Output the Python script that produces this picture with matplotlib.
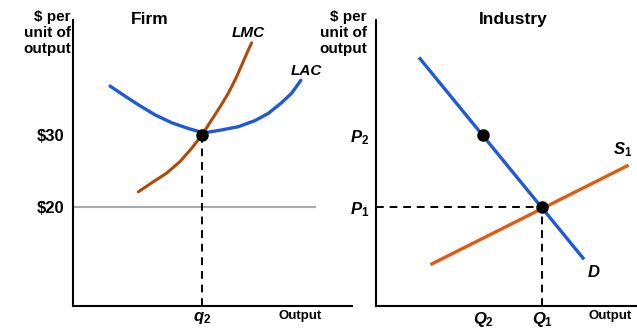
import numpy as np
import matplotlib
matplotlib.use('Agg')
import matplotlib.pyplot as plt

plt.rcParams['font.family'] = 'Liberation Sans'
plt.rcParams['font.weight'] = 'bold'
plt.rcParams['mathtext.fontset'] = 'custom'
plt.rcParams['mathtext.rm'] = 'Liberation Sans:bold'
plt.rcParams['mathtext.it'] = 'Liberation Sans:italic:bold'

# firm: long-run average cost and marginal cost ($ per unit vs output)
lac_q = [2.87, 3.78, 5.06, 6.36, 7.65, 8.94, 9.84, 10.5, 11.53, 12.81, 14.11,
         15.14, 16.18, 16.95, 17.67]
lac_p = [36.8, 35.7, 34.2, 32.8, 31.7, 30.9, 30.45, 30.4, 30.7, 31.15, 32.0,
         33.0, 34.5, 35.8, 37.6]
lmc_q = [5.06, 6.22, 7.26, 8.29, 9.2, 10.0, 10.75, 11.4, 12.04, 12.69, 13.2,
         13.59, 13.85]
lmc_p = [22.1, 23.5, 24.7, 26.3, 28.15, 30.0, 32.1, 33.9, 35.8, 38.1, 40.2,
         41.8, 42.8]
firm_price = 20
q2 = 10
p_lac_min = 30

# industry: demand and supply
d_q = [2.65, 12.47]
d_p = [40.6, 12.9]
s_q = [3.37, 15.12]
s_p = [12.1, 25.7]
Q1, P1 = 10, 20
Q2, P2 = 6.45, 30

blue = '#1f5ad6'
brown = '#b04a0a'
orange = '#e05a12'

fig = plt.figure(figsize=(6.37, 3.28), dpi=100)
W, H = 637, 328
axL = fig.add_axes([73 / W, 22 / H, (352 - 73) / W, 286 / H])
axR = fig.add_axes([376 / W, 22 / H, (637 - 376) / W, 286 / H])

ylim = (6.25, 45.97)
for ax in (axL, axR):
    ax.set_ylim(*ylim)
    for s in ('top', 'right'):
        ax.spines[s].set_visible(False)
    for s in ('left', 'bottom'):
        ax.spines[s].set_linewidth(1.5)
    ax.tick_params(length=0, labelsize=12)
    ax.patch.set_alpha(0)

axL.set_xlim(0, 21.63)
axR.set_xlim(0, 15.72)

# firm panel
axL.plot([0, 18.76], [firm_price, firm_price], color='#aaaaaa', lw=1.5)
axL.plot([q2, q2], [ylim[0], p_lac_min], color='black', lw=1.4, ls=(0, (4, 3)))
axL.plot(lac_q, lac_p, color=blue, lw=2.4, solid_capstyle='round', solid_joinstyle='round')
axL.plot(lmc_q, lmc_p, color=brown, lw=2.2, solid_capstyle='round', solid_joinstyle='round')
axL.plot([q2], [p_lac_min], 'o', color='black', ms=8)
axL.set_yticks([20, 30], ['$20', '$30'])
axL.set_xticks([q2], [r'$q_2$'])
axL.tick_params(axis='y', pad=6)
axL.tick_params(axis='x', pad=3)
axL.text(13.57, 44.2, 'LMC', style='italic', fontsize=11, ha='center', va='center')
axL.text(18.06, 38.9, 'LAC', style='italic', fontsize=11, ha='center', va='center')
axL.text(17.6, 4.9, 'Output', fontsize=9.5, ha='center', va='center')
axL.text(5.97, 46.0, 'Firm', fontsize=12.5, ha='center', va='center')

# industry panel
axR.plot([0, Q1], [P1, P1], color='black', lw=1.4, ls=(0, (4, 3)))
axR.plot([Q1, Q1], [ylim[0], P1], color='black', lw=1.4, ls=(0, (4, 3)))
axR.plot(d_q, d_p, color=blue, lw=2.4)
axR.plot(s_q, s_p, color=orange, lw=2.4)
axR.plot([Q1, Q2], [P1, P2], 'o', color='black', ms=8, ls='none')
axR.set_yticks([P1, P2], [r'$P_1$', r'$P_2$'])
axR.set_xticks([Q2, Q1], [r'$Q_2$', r'$Q_1$'])
axR.tick_params(axis='y', pad=5)
axR.tick_params(axis='x', pad=3)
axR.text(14.88, 27.9, r'$S_1$', fontsize=12, ha='center', va='center')
axR.text(13.13, 11.0, r'$D$', fontsize=12, ha='center', va='center')
axR.text(14.1, 4.9, 'Output', fontsize=9.5, ha='center', va='center')
axR.text(8.25, 46.0, 'Industry', fontsize=12.5, ha='center', va='center')

# y-axis captions
for x in (71, 367):
    fig.text(x / W, 1 - 33 / H, '$ per\nunit of\noutput', fontsize=11,
             ha='right', va='center', linespacing=1.2)

fig.savefig('out.png', dpi=100)
